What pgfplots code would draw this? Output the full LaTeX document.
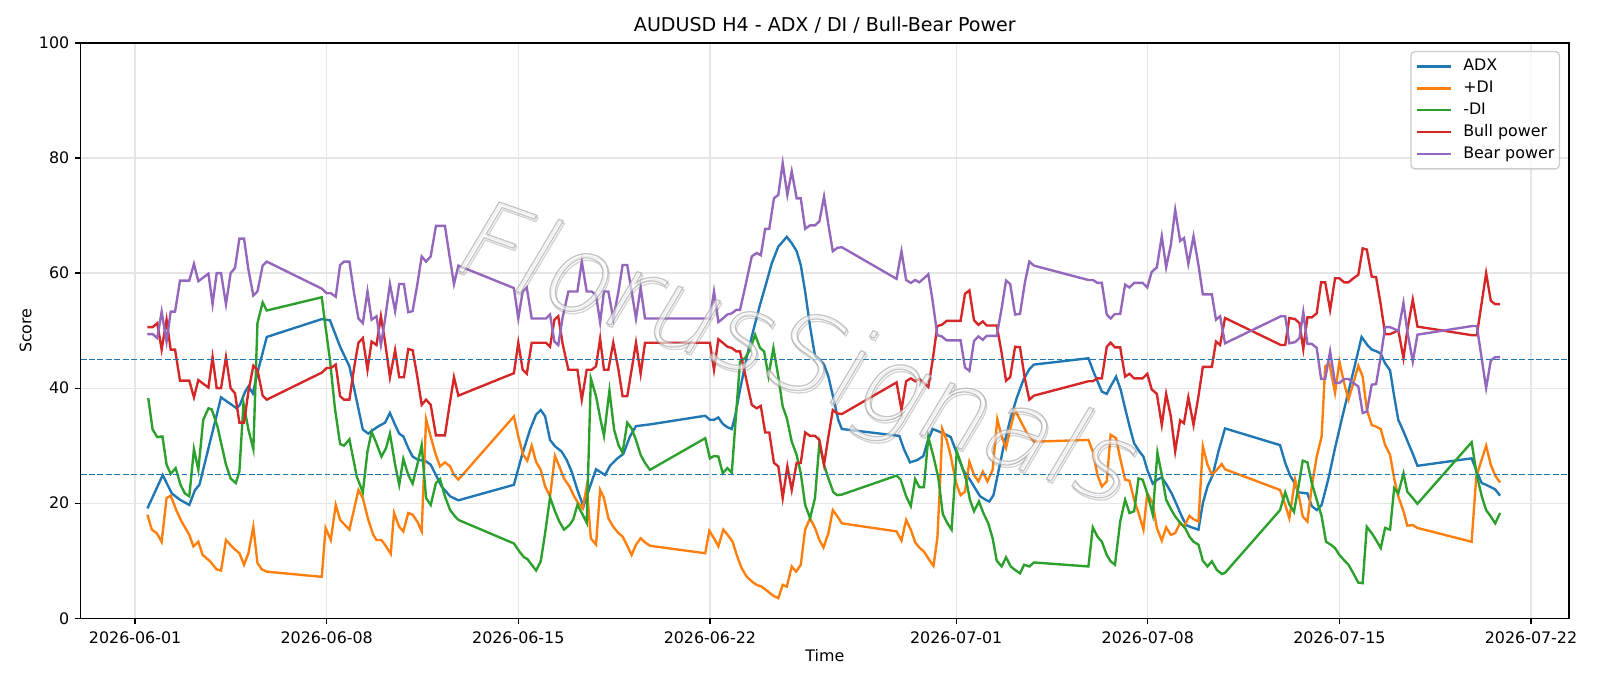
\documentclass[border=0pt]{standalone}
\usepackage{fontspec}
\setmainfont{DejaVu Sans}
\newfontfamily\wmfont{DejaVu Sans ExtraLight}[FakeSlant=0.2]
\usepackage{pgfplots}
\pgfplotsset{compat=1.18}

\definecolor{cADX}{HTML}{1F77B4}
\definecolor{cPDI}{HTML}{FF7F0E}
\definecolor{cMDI}{HTML}{2CA02C}
\definecolor{cBull}{HTML}{D62728}
\definecolor{cBear}{HTML}{9467BD}
\definecolor{gridc}{HTML}{E6E6E6}
\definecolor{legc}{HTML}{CCCCCC}

\newcommand{\tenpt}{\fontsize{10bp}{12bp}\selectfont}
% outlined text: white fill, grey stroke
\newcommand{\outlined}[1]{\special{pdf:literal direct 2 Tr 1 g 0.62 G 0.8 w}#1\special{pdf:literal direct 0 Tr}}
% stroke-only text for the drop shadow
\newcommand{\shadowed}[1]{\special{pdf:literal direct 1 Tr 0.5 G 0.8 w}#1\special{pdf:literal direct 0 Tr}}

\begin{document}
\begin{tikzpicture}
\useasboundingbox (-50.8bp,-42.65bp) rectangle (957.2bp,389.5bp);
\begin{axis}[
  at={(0,0)}, anchor=south west,
  scale only axis, width=937.7bp, height=362.4bp,
  xmin=-1.99, xmax=52.39, ymin=0, ymax=100,
  xtick={0,7,14,21,30,37,44,51},
  xticklabels={2026-06-01,2026-06-08,2026-06-15,2026-06-22,2026-07-01,2026-07-08,2026-07-15,2026-07-22},
  ytick={0,20,40,60,80,100},
  /pgf/number format/assume math mode=true,
  tick align=outside, xtick pos=bottom, ytick pos=left,
  major tick length=3.5bp,
  every tick/.style={black, line width=0.8bp},
  axis line style={black, line width=0.8bp},
  grid=major, major grid style={gridc, line width=0.8bp},
  tick label style={font=\tenpt},
  xticklabel style={inner sep=0pt, yshift=-4.5bp},
  yticklabel style={inner sep=0pt, xshift=-3.5bp},
  xlabel={Time}, ylabel={Score},
  every axis x label/.style={at={(axis description cs:0.5,-0.0657)}, anchor=center, font=\tenpt},
  every axis y label/.style={at={(axis description cs:-0.037,0.5)}, anchor=center, rotate=90, font=\tenpt},
  title={AUDUSD H4 - ADX / DI / Bull-Bear Power},
  every axis title/.style={at={(axis description cs:0.5,1.0304)}, anchor=center, font=\fontsize{12bp}{14bp}\selectfont},
  legend style={at={(axis description cs:1,1)}, anchor=north east, xshift=-5.7bp, yshift=-5bp,
    draw=legc, line width=0.8bp, rounded corners=2.5bp, fill=white, fill opacity=0.8, text opacity=1,
    font=\tenpt, inner xsep=3.2bp, inner ysep=4.6bp, row sep=4.3bp, column sep=6.9bp,
    nodes={inner sep=0bp, text height=7.5bp, text depth=2bp}},
  legend cell align=left,
  legend image code/.code={\draw[#1] (0bp,0bp) -- (21.4bp,0bp);},
]

% ADX
\addplot[cADX, line width=1.5bp] coordinates {
(0.45,19.1) (1.01,24.9) (1.34,21.7) (1.64,20.6) (1.98,19.7) (2.19,22.3) (2.35,23.2) (3.14,38.4) (3.47,37.3) (3.71,36.5) (3.83,37.1) (4.02,39.4) (4.14,40.3) (4.30,39.1) (4.50,43.2) (4.81,48.9)
(6.82,52.0) (7.12,51.8) (7.49,47.2) (7.83,43.8) (8.32,32.8) (8.52,32.1) (8.71,32.8) (8.90,33.4) (9.13,34.0) (9.31,35.7) (9.50,33.6) (9.65,32.1) (9.80,31.6) (9.98,29.6) (10.14,28.1) (10.35,27.5) (10.59,27.4) (10.80,26.7) (10.99,24.9) (11.20,22.9) (11.51,21.2) (11.81,20.5)
(13.84,23.2) (14.12,28.1) (14.43,32.8) (14.65,35.4) (14.82,36.2) (14.98,35.1) (15.16,31.0) (15.34,29.9) (15.58,29.0) (15.77,27.5) (15.95,25.5) (16.16,22.3) (16.38,19.4) (16.62,22.9) (16.84,25.9) (17.17,24.9) (17.35,26.5) (17.60,27.7) (17.84,28.6) (18.08,31.6) (18.30,33.4) (18.81,33.7)
(20.83,35.2) (21.00,34.5) (21.15,34.5) (21.31,34.9) (21.47,33.8) (21.64,33.2) (21.80,32.9) (21.92,35.1) (22.10,39.7) (22.35,45.5) (22.59,50.1) (22.83,54.5) (23.08,58.6) (23.26,61.7) (23.50,64.6) (23.81,66.3) (23.99,65.2) (24.17,63.8) (24.32,61.4) (24.48,56.8) (24.66,50.7) (24.84,45.6) (25.02,44.9) (25.17,44.1) (25.33,42.0) (25.51,38.3) (25.69,34.5) (25.82,32.9)
(27.92,31.7) (28.09,29.4) (28.31,27.1) (28.58,27.5) (28.80,28.2) (28.95,30.7) (29.14,32.9) (29.35,32.5) (29.59,32.0) (29.80,31.5) (30.02,28.7) (30.26,25.7) (30.50,24.1) (30.69,22.6) (30.87,21.2) (31.11,20.5) (31.21,20.3) (31.36,21.4) (31.48,24.1) (31.72,29.6) (31.97,34.5) (32.21,38.3) (32.45,41.4) (32.67,43.3) (32.84,44.1)
(34.83,45.2) (35.01,42.9) (35.32,39.4) (35.50,39.0) (35.64,40.3) (35.84,42.0) (36.01,39.7) (36.17,36.5) (36.33,33.4) (36.50,30.4) (36.69,29.0) (36.84,28.1) (36.98,25.8) (37.18,23.4) (37.35,24.1) (37.51,24.5) (37.69,23.2) (37.87,21.7) (38.06,19.7) (38.24,17.7) (38.40,16.2) (38.60,15.8) (38.85,15.4) (39.01,20.0) (39.18,22.9) (39.37,24.9) (39.58,29.0) (39.82,33.0)
(41.83,30.1) (42.02,27.0) (42.20,24.8) (42.36,23.5) (42.50,21.9) (42.83,21.7) (42.99,19.5) (43.17,18.8) (43.35,19.7) (43.60,24.3) (43.84,29.6) (44.08,34.5) (44.33,39.4) (44.57,44.1) (44.81,48.9) (45.02,47.5) (45.18,46.7) (45.36,46.4) (45.51,46.0) (45.67,44.3) (45.85,43.1) (46.00,38.6) (46.15,34.5) (46.34,32.5) (46.52,30.4) (46.68,28.6) (46.85,26.5)
(48.83,27.8) (49.02,25.5) (49.20,23.5) (49.36,23.2) (49.53,22.8) (49.69,22.4) (49.87,21.3)
};
\addlegendentry{ADX}

% +DI
\addplot[cPDI, line width=1.5bp] coordinates {
(0.45,18.0) (0.61,15.4) (0.79,14.8) (0.97,13.3) (1.15,20.9) (1.30,21.3) (1.52,18.6) (1.70,16.8) (1.98,14.5) (2.13,12.5) (2.31,13.3) (2.47,11.0) (2.74,9.9) (2.98,8.5) (3.14,8.3) (3.32,13.6) (3.59,12.2) (3.81,11.3) (3.98,9.3) (4.14,11.3) (4.32,15.9) (4.47,9.6) (4.63,8.5) (4.81,8.1)
(6.82,7.2) (6.96,15.7) (7.15,13.6) (7.33,19.7) (7.49,17.1) (7.83,15.4) (8.16,22.3) (8.32,20.9) (8.52,17.1) (8.70,14.5) (8.82,13.6) (9.00,13.6) (9.17,12.5) (9.34,11.2) (9.46,18.3) (9.65,15.9) (9.80,15.1) (9.98,18.3) (10.14,18.0) (10.31,16.8) (10.47,15.1) (10.63,34.6) (10.80,31.6) (10.96,28.8) (11.14,26.4) (11.32,27.1) (11.51,26.4) (11.65,24.9) (11.81,24.1)
(13.84,35.1) (14.00,31.6) (14.18,28.4) (14.33,27.4) (14.49,30.0) (14.65,27.2) (14.82,25.8) (14.98,22.9) (15.16,21.2) (15.34,28.2) (15.50,26.4) (15.67,24.3) (15.87,22.9) (16.04,21.2) (16.19,20.0) (16.35,19.1) (16.50,22.9) (16.65,13.9) (16.84,12.8) (16.99,22.3) (17.13,20.9) (17.29,17.4) (17.47,15.9) (17.66,14.8) (17.81,14.2) (17.98,12.6) (18.14,11.0) (18.30,12.8) (18.47,13.9) (18.63,13.2) (18.81,12.6)
(20.83,11.3) (20.98,15.2) (21.15,13.9) (21.31,12.5) (21.49,15.4) (21.68,14.3) (21.83,13.3) (21.98,11.0) (22.16,8.7) (22.35,7.2) (22.53,6.4) (22.71,5.8) (22.89,5.5) (23.08,4.8) (23.32,3.9) (23.50,3.5) (23.66,5.8) (23.81,5.5) (23.99,9.0) (24.15,8.1) (24.32,9.3) (24.48,15.4) (24.66,17.4) (24.84,15.7) (25.00,13.6) (25.15,12.3) (25.33,14.8) (25.49,18.8) (25.66,17.7) (25.82,16.5)
(27.82,15.1) (28.00,13.5) (28.17,17.1) (28.34,15.4) (28.50,13.2) (28.65,12.3) (28.82,11.6) (29.02,10.1) (29.17,9.1) (29.31,13.9) (29.41,23.5) (29.49,32.9) (29.65,31.0) (29.80,28.2) (29.96,24.3) (30.04,22.9) (30.16,21.4) (30.32,22.0) (30.48,27.2) (30.65,24.9) (30.81,23.8) (30.97,25.5) (31.14,23.8) (31.33,25.8) (31.50,34.6) (31.66,31.6) (31.82,29.6) (31.97,32.8) (32.15,36.2) (32.33,34.5) (32.58,32.2) (32.84,30.7)
(34.83,31.0) (34.99,29.0) (35.16,24.9) (35.32,22.9) (35.50,23.8) (35.64,31.9) (35.84,31.3) (35.99,27.8) (36.17,24.1) (36.33,23.9) (36.50,20.6) (36.66,18.3) (36.84,15.4) (36.98,21.7) (37.18,20.0) (37.33,15.7) (37.51,13.5) (37.67,15.8) (37.84,14.5) (38.00,14.8) (38.18,16.6) (38.32,15.9) (38.52,17.8) (38.67,17.2) (38.85,16.8) (39.01,29.9) (39.18,26.7) (39.34,24.9) (39.52,25.8) (39.70,26.8) (39.82,25.9)
(41.83,22.3) (42.02,19.7) (42.17,17.4) (42.38,24.1) (42.52,21.2) (42.66,17.7) (42.83,16.8) (42.99,22.9) (43.17,28.1) (43.35,31.6) (43.48,43.8) (43.63,44.3) (43.84,39.2) (44.00,44.6) (44.17,40.9) (44.33,38.0) (44.51,40.9) (44.69,43.9) (44.85,42.0) (45.00,36.3) (45.18,33.6) (45.34,33.3) (45.51,32.9) (45.67,30.1) (45.85,28.4) (46.00,24.3) (46.15,21.2) (46.34,18.6) (46.48,16.1) (46.68,16.2) (46.85,15.7)
(48.83,13.3) (49.00,24.6) (49.36,30.0) (49.53,26.7) (49.69,24.8) (49.87,23.6)
};
\addlegendentry{+DI}

% -DI
\addplot[cMDI, line width=1.5bp] coordinates {
(0.48,38.3) (0.64,32.8) (0.81,31.5) (1.00,31.6) (1.15,26.7) (1.30,25.1) (1.48,26.1) (1.66,23.2) (1.82,21.7) (1.98,21.2) (2.15,29.4) (2.31,25.8) (2.49,34.5) (2.68,36.5) (2.80,36.3) (3.01,33.3) (3.32,26.7) (3.49,24.3) (3.68,23.5) (3.81,25.5) (3.96,37.4) (4.14,32.8) (4.32,29.4) (4.47,51.3) (4.66,54.9) (4.81,53.5)
(6.82,55.8) (6.94,51.3) (7.12,44.9) (7.30,36.5) (7.49,30.3) (7.63,30.0) (7.83,31.1) (8.10,24.6) (8.32,21.9) (8.49,29.0) (8.64,32.4) (8.80,30.6) (9.00,28.1) (9.17,29.6) (9.31,32.1) (9.50,26.7) (9.65,23.2) (9.80,27.7) (9.98,24.9) (10.14,23.4) (10.31,26.7) (10.47,30.1) (10.63,20.9) (10.80,19.7) (10.99,23.5) (11.14,24.2) (11.32,21.2) (11.51,18.8) (11.69,17.7) (11.81,17.1)
(13.84,13.0) (14.04,11.6) (14.21,10.6) (14.33,10.3) (14.49,9.3) (14.65,8.3) (14.82,9.9) (14.98,14.8) (15.16,21.0) (15.34,18.6) (15.50,16.8) (15.67,15.4) (15.87,16.2) (16.01,17.2) (16.16,19.7) (16.32,18.3) (16.50,16.6) (16.65,41.7) (16.84,38.6) (17.01,34.4) (17.13,31.7) (17.33,39.6) (17.50,32.8) (17.66,30.1) (17.81,28.8) (17.98,34.0) (18.14,33.0) (18.30,31.0) (18.47,28.4) (18.63,27.0) (18.81,25.8)
(20.83,31.3) (21.00,27.8) (21.15,28.2) (21.31,28.1) (21.47,25.2) (21.64,26.1) (21.80,25.3) (21.96,35.7) (22.10,44.6) (22.28,45.2) (22.47,46.7) (22.65,49.3) (22.83,47.0) (22.98,46.4) (23.14,42.1) (23.32,47.0) (23.50,42.0) (23.66,36.8) (23.81,34.8) (23.99,30.7) (24.17,28.4) (24.32,25.2) (24.48,19.7) (24.66,17.4) (24.84,20.9) (25.00,30.4) (25.17,26.7) (25.33,24.3) (25.51,21.9) (25.66,21.4) (25.82,21.5)
(27.82,24.8) (27.97,24.1) (28.17,21.2) (28.34,19.5) (28.50,24.2) (28.65,22.8) (28.82,22.8) (28.98,31.5) (29.17,28.1) (29.35,24.3) (29.51,18.1) (29.68,16.5) (29.83,15.4) (30.02,29.0) (30.20,26.5) (30.36,24.1) (30.50,20.6) (30.65,18.6) (30.83,20.3) (30.99,18.3) (31.17,16.5) (31.33,13.9) (31.48,10.0) (31.66,9.0) (31.82,10.6) (31.99,9.0) (32.15,8.4) (32.33,7.8) (32.48,9.3) (32.67,9.0) (32.84,9.7)
(34.83,9.0) (34.99,15.8) (35.16,14.2) (35.32,13.3) (35.50,11.0) (35.64,9.9) (35.80,9.3) (35.99,16.8) (36.17,20.6) (36.33,18.3) (36.50,18.6) (36.66,24.3) (36.81,24.1) (36.98,21.7) (37.18,18.0) (37.35,28.8) (37.51,24.9) (37.67,20.6) (37.84,19.0) (38.00,17.7) (38.18,16.6) (38.36,15.7) (38.52,14.2) (38.67,13.3) (38.85,12.8) (39.01,10.0) (39.18,9.0) (39.34,9.9) (39.52,8.4) (39.70,7.7) (39.82,7.9)
(41.83,18.8) (42.02,21.9) (42.17,19.8) (42.34,18.5) (42.50,22.8) (42.66,27.4) (42.83,27.1) (42.99,23.5) (43.17,20.6) (43.35,17.7) (43.51,13.3) (43.68,12.8) (43.84,12.2) (44.00,11.0) (44.17,10.1) (44.33,9.3) (44.51,7.8) (44.69,6.2) (44.85,6.1) (45.00,15.9) (45.18,14.8) (45.34,13.6) (45.51,12.2) (45.67,15.7) (45.85,15.4) (46.00,22.6) (46.15,21.7) (46.34,25.2) (46.48,22.0) (46.68,20.9) (46.85,19.9)
(48.83,30.6) (49.02,24.9) (49.20,21.2) (49.36,18.8) (49.53,17.7) (49.69,16.5) (49.87,18.3)
};
\addlegendentry{-DI}

% Bull power
\addplot[cBull, line width=1.5bp] coordinates {
(0.45,50.6) (0.64,50.6) (0.81,51.3) (0.97,46.7) (1.15,51.9) (1.30,46.7) (1.46,46.7) (1.64,41.3) (1.98,41.3) (2.15,38.4) (2.31,41.4) (2.68,40.1) (2.83,45.4) (2.98,40.0) (3.14,40.0) (3.32,45.4) (3.49,40.0) (3.65,39.1) (3.81,34.0) (3.98,34.0) (4.14,39.4) (4.32,43.9) (4.47,43.2) (4.66,38.7) (4.81,38.0)
(6.82,42.7) (7.00,43.5) (7.15,43.5) (7.33,44.1) (7.49,38.6) (7.63,38.0) (7.83,38.0) (8.00,43.5) (8.16,47.9) (8.32,48.7) (8.49,43.2) (8.64,48.1) (8.82,47.5) (8.98,52.5) (9.13,48.1) (9.31,41.9) (9.50,46.6) (9.65,41.9) (9.82,41.9) (9.98,46.8) (10.14,46.6) (10.31,42.0) (10.47,37.1) (10.63,38.0) (10.80,37.1) (10.99,31.8) (11.32,31.8) (11.48,36.8) (11.65,41.9) (11.81,38.7)
(13.84,42.6) (14.00,47.9) (14.16,43.2) (14.31,42.5) (14.49,47.9) (15.01,47.9) (15.16,47.2) (15.32,51.9) (15.46,52.5) (15.62,47.7) (15.83,43.2) (16.16,43.2) (16.32,38.0) (16.50,43.2) (16.68,43.2) (16.84,43.8) (16.99,48.6) (17.13,43.2) (17.29,43.2) (17.47,47.9) (17.66,43.2) (17.81,38.6) (17.98,38.6) (18.14,43.2) (18.30,47.9) (18.47,42.5) (18.63,47.9) (18.81,47.9)
(20.83,47.9) (21.00,47.9) (21.15,43.2) (21.31,48.5) (21.47,47.9) (21.64,47.2) (21.80,47.0) (21.96,46.4) (22.10,46.4) (22.28,42.6) (22.53,37.1) (22.71,36.5) (22.86,36.9) (23.02,32.3) (23.17,32.3) (23.34,27.0) (23.50,26.4) (23.66,20.9) (23.83,26.4) (23.99,22.3) (24.17,27.0) (24.32,27.0) (24.48,32.3) (24.66,31.7) (24.84,31.7) (25.00,31.0) (25.17,26.7) (25.33,31.6) (25.49,36.2) (25.66,35.6) (25.82,35.5)
(27.82,41.0) (28.00,36.2) (28.17,41.2) (28.34,41.7) (28.50,41.2) (28.65,41.6) (28.82,40.9) (28.98,40.2) (29.14,44.9) (29.31,50.8) (29.47,51.0) (29.65,51.7) (30.16,51.7) (30.32,56.4) (30.48,57.0) (30.65,51.8) (30.81,51.0) (30.97,51.6) (31.11,50.9) (31.48,50.9) (31.66,46.1) (31.82,41.3) (31.97,41.9) (32.15,47.2) (32.33,47.1) (32.51,41.6) (32.67,38.0) (32.84,38.7)
(34.83,41.2) (34.99,41.2) (35.16,41.7) (35.32,41.7) (35.50,47.2) (35.64,47.9) (35.80,47.1) (35.99,47.1) (36.17,42.0) (36.33,42.5) (36.50,41.7) (36.81,41.7) (36.98,42.5) (37.14,39.8) (37.33,39.0) (37.51,33.6) (37.67,39.0) (37.84,35.1) (38.00,29.0) (38.18,34.4) (38.32,33.9) (38.48,38.4) (38.67,33.6) (38.85,38.6) (39.01,43.7) (39.34,43.7) (39.49,48.1) (39.64,47.5) (39.82,52.2)
(41.86,47.5) (42.02,47.5) (42.17,52.2) (42.38,52.0) (42.54,51.3) (42.68,46.8) (42.83,52.3) (42.99,52.3) (43.17,53.0) (43.33,58.4) (43.48,58.4) (43.66,53.6) (43.84,59.1) (44.00,59.1) (44.17,58.4) (44.33,58.4) (44.51,59.1) (44.69,59.7) (44.85,64.3) (45.00,64.1) (45.18,59.4) (45.34,59.3) (45.51,54.5) (45.67,49.4) (45.85,49.4) (46.00,49.7) (46.15,50.1) (46.34,45.2) (46.48,50.1) (46.68,55.4) (46.85,50.7)
(48.85,49.2) (49.02,49.2) (49.36,60.0) (49.53,55.2) (49.69,54.6) (49.87,54.6)
};
\addlegendentry{Bull power}

% Bear power
\addplot[cBear, line width=1.5bp] coordinates {
(0.45,49.4) (0.64,49.4) (0.81,48.7) (0.97,53.3) (1.15,48.1) (1.30,53.3) (1.46,53.3) (1.64,58.7) (1.98,58.7) (2.15,61.6) (2.31,58.6) (2.68,59.9) (2.83,54.6) (2.98,60.0) (3.14,60.0) (3.32,54.6) (3.49,60.0) (3.65,60.9) (3.81,66.0) (3.98,66.0) (4.14,60.6) (4.32,56.1) (4.47,56.8) (4.66,61.3) (4.81,62.0)
(6.82,57.3) (7.00,56.5) (7.15,56.5) (7.33,55.9) (7.49,61.4) (7.63,62.0) (7.83,62.0) (8.00,56.5) (8.16,52.1) (8.32,51.3) (8.49,56.8) (8.64,51.9) (8.82,52.5) (8.98,47.5) (9.13,51.9) (9.31,58.1) (9.50,53.4) (9.65,58.1) (9.82,58.1) (9.98,53.2) (10.14,53.4) (10.31,58.0) (10.47,62.9) (10.63,62.0) (10.80,62.9) (10.99,68.2) (11.32,68.2) (11.48,63.2) (11.65,58.1) (11.81,61.3)
(13.84,57.4) (14.00,52.1) (14.16,56.8) (14.31,57.5) (14.49,52.1) (15.01,52.1) (15.16,52.8) (15.32,48.1) (15.46,47.5) (15.62,52.3) (15.83,56.8) (16.16,56.8) (16.32,62.0) (16.50,56.8) (16.68,56.8) (16.84,56.2) (16.99,51.4) (17.13,56.8) (17.29,56.8) (17.47,52.1) (17.66,56.8) (17.81,61.4) (17.98,61.4) (18.14,56.8) (18.30,52.1) (18.47,57.5) (18.63,52.1) (18.81,52.1)
(20.83,52.1) (21.00,52.1) (21.15,56.8) (21.31,51.5) (21.47,52.1) (21.64,52.8) (21.80,53.0) (21.96,53.6) (22.10,53.6) (22.28,57.4) (22.53,62.9) (22.71,63.5) (22.86,63.1) (23.02,67.7) (23.17,67.7) (23.34,73.0) (23.50,73.6) (23.66,79.1) (23.83,73.6) (23.99,77.7) (24.17,73.0) (24.32,73.0) (24.48,67.7) (24.66,68.3) (24.84,68.3) (25.00,69.0) (25.17,73.3) (25.33,68.4) (25.49,63.8) (25.66,64.4) (25.82,64.5)
(27.82,59.0) (28.00,63.8) (28.17,58.8) (28.34,58.3) (28.50,58.8) (28.65,58.4) (28.82,59.1) (28.98,59.8) (29.14,55.1) (29.31,49.2) (29.47,49.0) (29.65,48.3) (30.16,48.3) (30.32,43.6) (30.48,43.0) (30.65,48.2) (30.81,49.0) (30.97,48.4) (31.11,49.1) (31.48,49.1) (31.66,53.9) (31.82,58.7) (31.97,58.1) (32.15,52.8) (32.33,52.9) (32.51,58.4) (32.67,62.0) (32.84,61.3)
(34.83,58.8) (34.99,58.8) (35.16,58.3) (35.32,58.3) (35.50,52.8) (35.64,52.1) (35.80,52.9) (35.99,52.9) (36.17,58.0) (36.33,57.5) (36.50,58.3) (36.81,58.3) (36.98,57.5) (37.14,60.2) (37.33,61.0) (37.51,66.4) (37.67,61.0) (37.84,64.9) (38.00,71.0) (38.18,65.6) (38.32,66.1) (38.48,61.6) (38.67,66.4) (38.85,61.4) (39.01,56.3) (39.34,56.3) (39.49,51.9) (39.64,52.5) (39.82,47.8)
(41.86,52.5) (42.02,52.5) (42.17,47.8) (42.38,48.0) (42.54,48.7) (42.68,53.2) (42.83,47.7) (42.99,47.7) (43.17,47.0) (43.33,41.6) (43.48,41.6) (43.66,46.4) (43.84,40.9) (44.00,40.9) (44.17,41.6) (44.33,41.6) (44.51,40.9) (44.69,40.3) (44.85,35.7) (45.00,35.9) (45.18,40.6) (45.34,40.7) (45.51,45.5) (45.67,50.6) (45.85,50.6) (46.00,50.3) (46.15,49.9) (46.34,54.8) (46.48,49.9) (46.68,44.6) (46.85,49.3)
(48.85,50.8) (49.02,50.8) (49.36,40.0) (49.53,44.8) (49.69,45.4) (49.87,45.4)
};
\addlegendentry{Bear power}

% threshold levels
\addplot[cADX, line width=1bp, dash pattern=on 3.7bp off 1.6bp, forget plot] coordinates {(-1.99,45) (52.39,45)};
\addplot[cADX, line width=1bp, dash pattern=on 3.7bp off 1.6bp, forget plot] coordinates {(-1.99,25) (52.39,25)};

% watermark with a faint drop shadow
\node[rotate=-19.5, font=\wmfont\fontsize{68bp}{68bp}\selectfont, opacity=0.35, xshift=1.2bp, yshift=-1.2bp] at (axis cs:23.96,45.4) {\shadowed{FlorusSignals}};
\node[rotate=-19.5, font=\wmfont\fontsize{68bp}{68bp}\selectfont, opacity=0.6] at (axis cs:23.96,45.4) {\outlined{FlorusSignals}};
\end{axis}
\end{tikzpicture}
\end{document}
